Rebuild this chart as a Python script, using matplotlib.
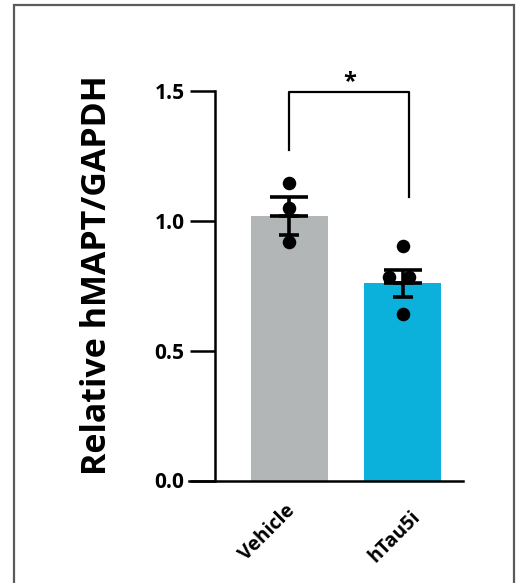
import matplotlib
matplotlib.use("Agg")
import matplotlib.pyplot as plt
import matplotlib.patches as mpatches
from matplotlib.transforms import ScaledTranslation
import numpy as np

# ---- data ----
groups = ["Vehicle", "hTau5i"]
means = [1.018, 0.760]
sems = [0.072, 0.052]
vehicle_points = [1.146, 1.049, 0.918]
htau5i_points = [0.903, 0.784, 0.784, 0.641]
yticks = [0.0, 0.5, 1.0, 1.5]
ytick_labels = ["0.0", "0.5", "1.0", "1.5"]
ylabel = "Relative hMAPT/GAPDH"
sig_label = "*"

bar_colors = ["#B2B6B6", "#0BB0DB"]
FONT = "Open Sans"

W, H = 523, 583
fig = plt.figure(figsize=(W / 100, H / 100), dpi=100)

# outer frame around the panel
frame = mpatches.Rectangle((14 / W, -0.05), 500 / W, 1 - 5 / H + 0.05,
                           transform=fig.transFigure, fill=False,
                           edgecolor="#5a5a5a", linewidth=1.6, clip_on=False)
fig.add_artist(frame)

ax = fig.add_axes([189 / W, 1 - 480.5 / H, 274 / W, 389.5 / H])

x = np.arange(len(groups))
ax.bar(x, means, width=0.68, color=bar_colors, zorder=1)

# individual replicate points
jitter_v = [0.0, 0.0, 0.0]
jitter_h = [0.0, -0.12, 0.06, 0.0]
ax.scatter(x[0] + np.array(jitter_v), vehicle_points, s=95, color="black", zorder=4, linewidths=0)
ax.scatter(x[1] + np.array(jitter_h), htau5i_points, s=95, color="black", zorder=4, linewidths=0)

# error bars: upper cap wider than lower cap
for xi, m, s in zip(x, means, sems):
    ax.errorbar(xi, m, yerr=[[0], [s]], fmt="none", ecolor="black",
                elinewidth=2.6, capsize=14, capthick=2.6, zorder=3)
    ax.errorbar(xi, m, yerr=[[s], [0]], fmt="none", ecolor="black",
                elinewidth=2.6, capsize=7.5, capthick=2.6, zorder=3)

# significance bracket
bx0, bx1 = x[0], x[1] + 0.06
ytop = 1.496
ax.plot([bx0, bx0, bx1, bx1], [1.273, ytop, ytop, 1.092], color="black",
        linewidth=1.6, clip_on=False, zorder=5)
ax.text((bx0 + bx1) / 2, 1.51, sig_label, ha="center", va="baseline",
        fontsize=17, fontweight="bold", family=FONT, clip_on=False)

ax.set_xlim(-0.889, 1.535)
ax.set_ylim(0, 1.5)

for side in ["top", "right"]:
    ax.spines[side].set_visible(False)
ax.spines["left"].set_position(("data", -0.659))
ax.spines["left"].set_linewidth(1.8)
ax.spines["bottom"].set_linewidth(1.8)

ax.set_yticks(yticks)
ax.set_yticklabels(ytick_labels, fontsize=15, fontweight="bold", family=FONT)
ax.tick_params(axis="y", length=18, width=1.8, pad=4)

ax.set_xticks(x)
ax.set_xticklabels(groups, fontsize=14, fontweight="bold", family=FONT,
                   rotation=45, ha="right", va="center", rotation_mode="anchor")
ax.tick_params(axis="x", length=0, pad=20)
offsets = [(0.03, 0.0), (0.15, -0.06)]
for lab, (dx, dy) in zip(ax.get_xticklabels(), offsets):
    lab.set_transform(lab.get_transform() + ScaledTranslation(dx, dy, fig.dpi_scale_trans))

fig.text(97 / W, 1 - 275 / H, ylabel, rotation=90, ha="center", va="center",
         fontsize=24.5, fontweight="bold", family=FONT)

fig.savefig("out.png", dpi=100)
